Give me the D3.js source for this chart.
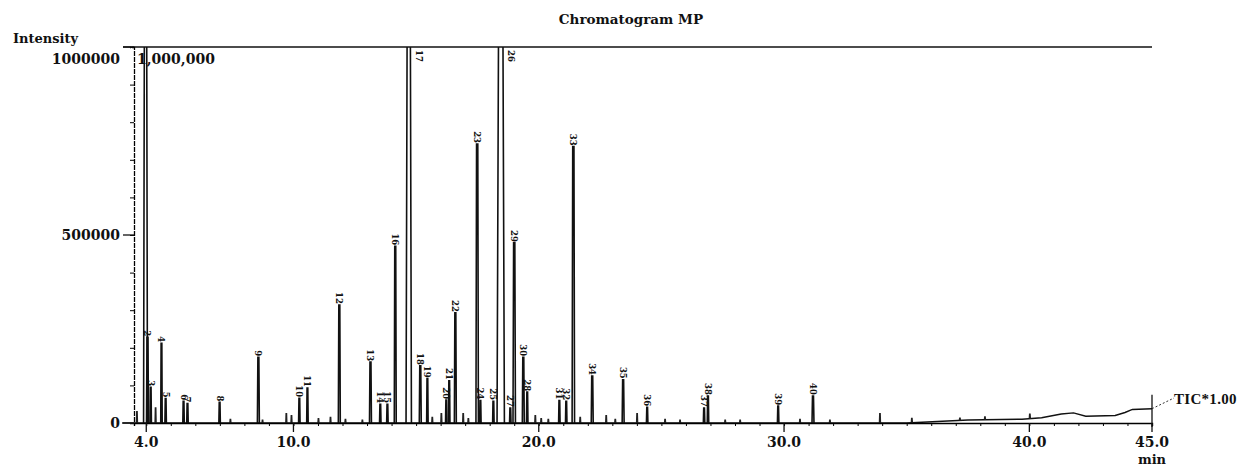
<!DOCTYPE html>
<html>
<head>
<meta charset="utf-8">
<script src="https://cdn.jsdelivr.net/npm/d3@7"></script>
<style>
  body { margin: 0; background: #fff; }
  svg text { font-family: "DejaVu Serif", "Liberation Serif", serif; font-weight: bold; fill: #111; }
</style>
</head>
<body>
<script>
// labelled peaks: retention time (min), intensity, peak half-width (min)
const peakLabels = ["1", "2", "3", "4", "5", "6", "7", "8", "9", "10",
  "11", "12", "13", "14", "15", "16", "17", "18", "19", "20",
  "21", "22", "23", "24", "25", "26", "27", "28", "29", "30",
  "31", "32", "33", "34", "35", "36", "37", "38", "39", "40"];
const peakTimes = [3.97, 4.05, 4.18, 4.62, 4.79, 5.52, 5.68, 6.99, 8.57, 10.24,
  10.57, 11.87, 13.14, 13.54, 13.83, 14.15, 14.70, 15.17, 15.46, 16.23,
  16.35, 16.60, 17.49, 17.62, 18.15, 18.45, 18.84, 19.53, 19.00, 19.37,
  20.84, 21.12, 21.41, 22.18, 23.44, 24.42, 26.74, 26.90, 29.76, 31.18];
const peakHeights = [1300000, 228000, 95000, 212000, 65000, 58000, 52000, 55000, 175000, 66000,
  93000, 314000, 162000, 50000, 50000, 470000, 1300000, 152000, 118000, 61000,
  112000, 293000, 742000, 60000, 58000, 1300000, 40000, 82000, 479000, 175000,
  60000, 58000, 735000, 125000, 115000, 42000, 40000, 72000, 45000, 72000];
const peakWidths = [0.08, 0.04, 0.03, 0.03, 0.03, 0.03, 0.03, 0.03, 0.04, 0.03,
  0.03, 0.04, 0.04, 0.03, 0.03, 0.04, 0.11, 0.04, 0.03, 0.03,
  0.03, 0.04, 0.05, 0.03, 0.03, 0.15, 0.03, 0.03, 0.05, 0.04,
  0.03, 0.03, 0.05, 0.04, 0.04, 0.03, 0.03, 0.03, 0.03, 0.04];

// small unlabelled peaks along the baseline
const minorTimes = [3.62, 4.38, 7.43, 8.74, 9.71, 9.92, 11.02, 11.51, 12.12, 12.81,
  15.66, 16.03, 16.92, 17.13, 19.86, 20.10, 20.39, 21.69, 22.75, 23.12,
  24.01, 25.15, 25.76, 27.60, 28.21, 30.65, 31.87, 33.91, 35.21, 37.17, 38.19, 40.02];
const minorHeights = [30000, 40000, 10000, 8000, 25000, 20000, 12000, 15000, 10000, 8000,
  15000, 25000, 25000, 12000, 20000, 12000, 10000, 15000, 20000, 10000,
  25000, 10000, 8000, 8000, 8000, 10000, 8000, 25000, 12000, 6000, 8000, 12000];

// baseline drift
const driftTimes = [3.5, 35, 37.5, 39.7, 40.5, 41.3, 41.8, 42.3, 43.5, 43.9, 44.2, 45];
const driftValues = [0, 0, 8000, 10000, 14000, 24000, 27000, 18000, 20000, 28000, 36000, 38000];

const xMajor = [4, 10, 20, 30, 40, 45];
const yMajor = [0, 500000, 1000000];

const width = 1259;
const height = 466;
const mLeft = 134, mRight = 1152, mTop = 47, mBottom = 423;

const svg = d3.select("body")
  .append("svg")
  .attr("width", width)
  .attr("height", height);

const x = d3.scaleLinear().domain([3.5, 45]).range([mLeft, mRight]);
const y = d3.scaleLinear().domain([0, 1000000]).range([mBottom, mTop]);
const base = d3.scaleLinear().domain(driftTimes).range(driftValues).clamp(true);

svg.append("clipPath")
  .attr("id", "plot")
  .append("rect")
  .attr("x", mLeft)
  .attr("y", mTop)
  .attr("width", mRight - mLeft)
  .attr("height", mBottom - mTop + 2);

const g = svg.append("g").attr("clip-path", "url(#plot)");

// baseline
const line = d3.line().x((d) => x(d[0])).y((d) => y(d[1]));
g.append("path")
  .attr("d", line(driftTimes.map((t, i) => [t, driftValues[i]])))
  .attr("fill", "none")
  .attr("stroke", "#111")
  .attr("stroke-width", 1.4);

function peakPath(t, h, w) {
  const b = base(t);
  return line([[t - w, b], [t - w * 0.5, b + h], [t + w * 0.5, b + h], [t + w, b]]);
}

g.selectAll(".minor")
  .data(minorTimes)
  .enter()
  .append("path")
  .attr("class", "minor")
  .attr("d", (d, i) => peakPath(d, minorHeights[i], 0.025))
  .attr("fill", "none")
  .attr("stroke", "#222")
  .attr("stroke-width", 1.2);

g.selectAll(".peak")
  .data(peakTimes)
  .enter()
  .append("path")
  .attr("class", "peak")
  .attr("d", (d, i) => peakPath(d, peakHeights[i], peakWidths[i]))
  .attr("fill", "none")
  .attr("stroke", "#111")
  .attr("stroke-width", 1.6);

// peak labels, rotated (peak 1 carries the 1,000,000 note instead)
svg.selectAll(".plabel")
  .data(d3.range(1, peakTimes.length))
  .enter()
  .append("text")
  .attr("class", "plabel")
  .style("font-size", "8.5px")
  .text((k) => peakLabels[k])
  .attr("text-anchor", (k) => (peakHeights[k] > 1000000 ? "start" : "end"))
  .attr("transform", (k) => {
    const t = peakTimes[k];
    const h = peakHeights[k];
    if (h > 1000000) return `translate(${x(t) + 7},${mTop + 3}) rotate(90)`;
    return `translate(${x(t) - 3},${y(h + base(t)) - 1}) rotate(90)`;
  });

// axes
svg.append("line")
  .attr("x1", mLeft - 11).attr("x2", mRight)
  .attr("y1", mTop).attr("y2", mTop)
  .attr("stroke", "#111").attr("stroke-width", 1.3);

const yAxis = d3.axisLeft(y)
  .tickValues(d3.range(0, 1000001, 100000))
  .tickSize(4)
  .tickFormat("");
svg.append("g")
  .attr("transform", `translate(${mLeft},0)`)
  .call(yAxis)
  .call((s) => s.select(".domain").attr("stroke-width", 1.3).attr("stroke-dasharray", "5,1"));

svg.selectAll(".ymaj")
  .data(yMajor)
  .enter()
  .append("line")
  .attr("x1", mLeft - 11).attr("x2", mLeft)
  .attr("y1", (d) => y(d)).attr("y2", (d) => y(d))
  .attr("stroke", "#111").attr("stroke-width", 1.3);

svg.selectAll(".ylab")
  .data(yMajor)
  .enter()
  .append("text")
  .attr("x", 120)
  .attr("y", (d) => (d === 1000000 ? y(d) + 17 : y(d) + 5))
  .attr("text-anchor", "end")
  .style("font-size", "14px")
  .text((d) => d);

const xAxis = d3.axisBottom(x)
  .tickValues(d3.range(4, 46, 1))
  .tickSize(3)
  .tickFormat("");
svg.append("g")
  .attr("transform", `translate(0,${mBottom})`)
  .call(xAxis)
  .call((s) => s.select(".domain").attr("stroke-width", 1.4));

svg.append("line")
  .attr("x1", mLeft - 12).attr("x2", mLeft)
  .attr("y1", mBottom).attr("y2", mBottom)
  .attr("stroke", "#111").attr("stroke-width", 1.4);

svg.selectAll(".xmaj")
  .data(xMajor)
  .enter()
  .append("line")
  .attr("x1", (d) => x(d)).attr("x2", (d) => x(d))
  .attr("y1", mBottom).attr("y2", mBottom + 9)
  .attr("stroke", "#111").attr("stroke-width", 1.3);

svg.selectAll(".xlab")
  .data(xMajor)
  .enter()
  .append("text")
  .attr("x", (d) => x(d))
  .attr("y", mBottom + 24)
  .attr("text-anchor", "middle")
  .style("font-size", "14px")
  .text((d) => d.toFixed(1));

// right edge
svg.append("line")
  .attr("x1", mRight).attr("x2", mRight)
  .attr("y1", y(base(45)) - 14).attr("y2", mBottom + 4)
  .attr("stroke", "#111").attr("stroke-width", 1.3);

svg.append("text")
  .attr("x", x(45))
  .attr("y", 464)
  .attr("text-anchor", "middle")
  .style("font-size", "13px")
  .text("min");

svg.append("line")
  .attr("x1", mRight).attr("y1", y(base(45)))
  .attr("x2", 1174).attr("y2", 398)
  .attr("stroke", "#333").attr("stroke-dasharray", "2,2");

svg.append("text")
  .attr("x", 1174)
  .attr("y", 404)
  .style("font-size", "15px")
  .style("font-family", "'Liberation Serif', serif")
  .style("letter-spacing", "0.3px")
  .text("TIC*1.00");

svg.append("text")
  .attr("x", 137)
  .attr("y", 64)
  .style("font-size", "14px")
  .text("1,000,000");

svg.append("text")
  .attr("x", 13)
  .attr("y", 43)
  .style("font-size", "13px")
  .text("Intensity");

svg.append("text")
  .attr("x", 631)
  .attr("y", 24)
  .attr("text-anchor", "middle")
  .style("font-size", "13.5px")
  .text("Chromatogram MP");
</script>
</body>
</html>
